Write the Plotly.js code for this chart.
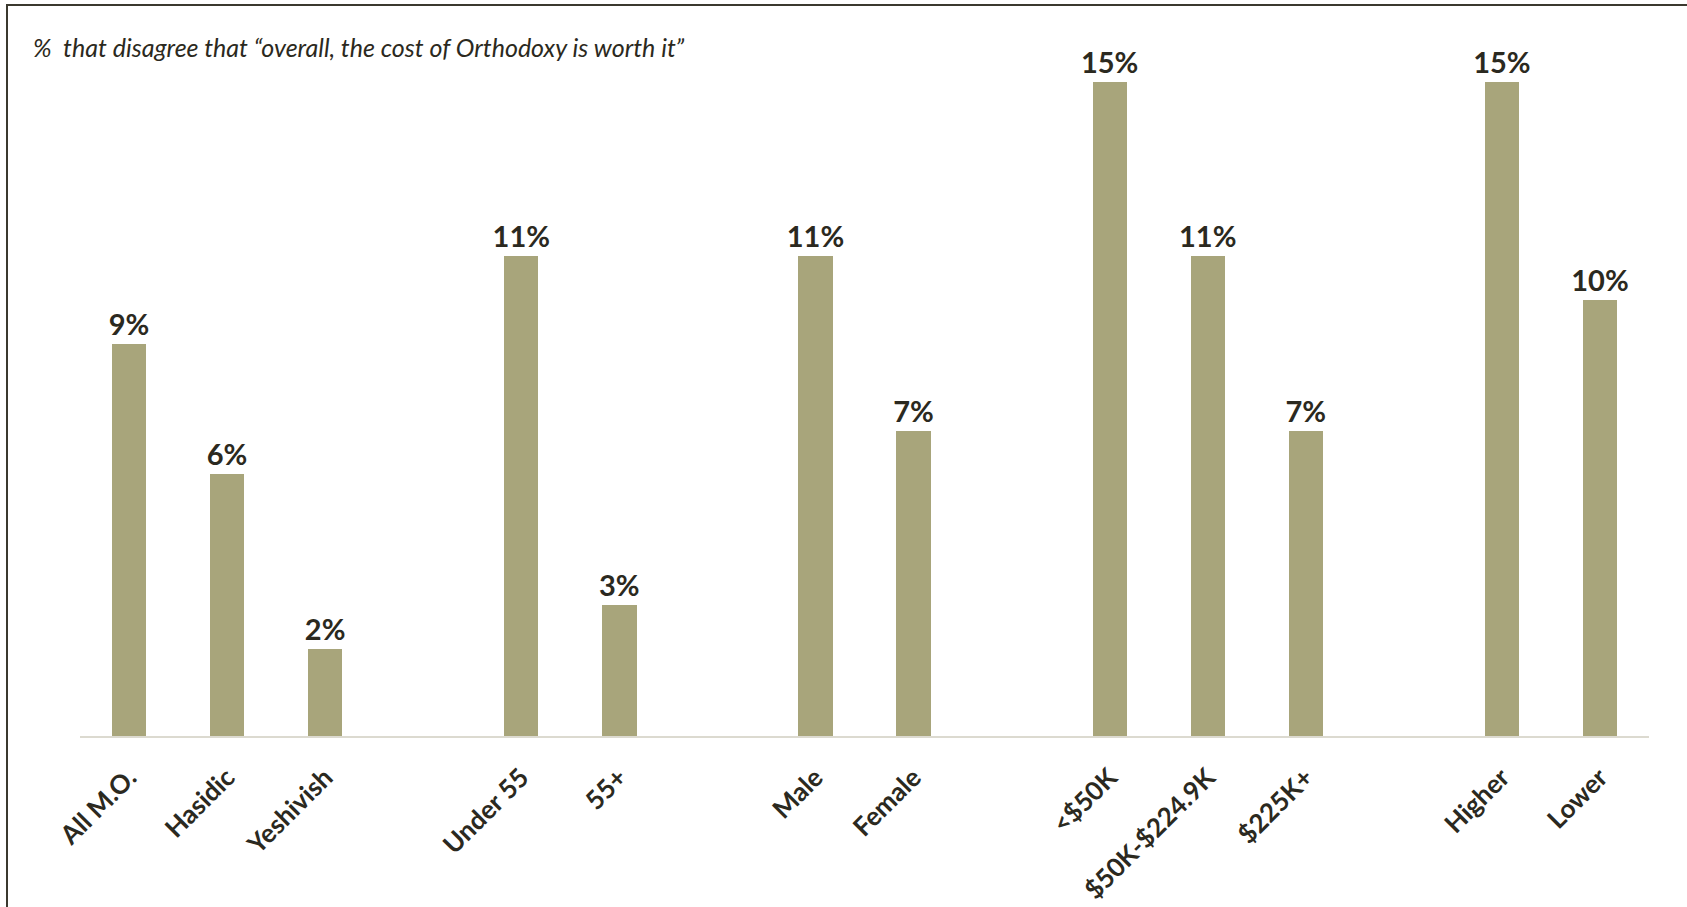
<!DOCTYPE html>
<html>
<head>
<meta charset="utf-8">
<script src="https://cdn.plot.ly/plotly-3.0.1.min.js"></script>
<style>html,body{margin:0;padding:0;background:#fff;}#chart{width:1687px;height:907px;}</style>
</head>
<body>
<div id="chart"></div>
<script>
const categories = ["All M.O.", "Hasidic", "Yeshivish", "Under 55", "55+", "Male", "Female", "<$50K", "$50K-$224.9K", "$225K+", "Higher", "Lower"];
const values = [9, 6, 2, 11, 3, 11, 7, 15, 11, 7, 15, 10];
const groupSizes = [3, 2, 2, 3, 2];
const titleText = "%  that disagree that \u201coverall, the cost of Orthodoxy is worth it\u201d";

// slot positions: one empty slot between groups
const xs = [];
let slot = 0;
groupSizes.forEach((n, g) => {
  for (let i = 0; i < n; i++) { xs.push(slot); slot++; }
  slot++;
});
const lastSlot = xs[xs.length - 1];

const L = 80, R = 38, T = 38, B = 171, W = 1687, H = 907;
const pw = W - L - R, ph = H - T - B;
function px2paperX(p) { return (p - L) / pw; }
function px2paperY(p) { return (H - B - p) / ph; }

const trace = {
  type: "bar",
  x: xs,
  y: values,
  width: 0.35,
  marker: { color: "#a8a57b" },
  texttemplate: "%{y}%",
  textposition: "outside",
  constraintext: "none",
  cliponaxis: false,
  textfont: { family: "Lato, 'Open Sans', sans-serif", size: 29, color: "#2b2920", weight: 700 },
  hoverinfo: "skip"
};

const layout = {
  width: W, height: H,
  margin: { l: L, r: R, t: T, b: B },
  paper_bgcolor: "#ffffff",
  plot_bgcolor: "#ffffff",
  showlegend: false,
  title: {
    text: titleText,
    font: { family: "Lato, 'Open Sans', sans-serif", size: 25, color: "#2b2920", style: "italic" },
    xref: "container", yref: "container",
    x: 33 / W, xanchor: "left",
    y: 1 - 48 / H, yanchor: "middle"
  },
  xaxis: {
    range: [-0.5, lastSlot + 0.5],
    tickmode: "array",
    tickvals: xs,
    ticktext: categories,
    tickangle: -45,
    ticks: "",
    ticklabelstandoff: 14,
    tickfont: { family: "Lato, 'Open Sans', sans-serif", size: 26, color: "#2b2920", weight: 700 },
    showgrid: false,
    zeroline: false,
    showline: true,
    linecolor: "#dcdad0",
    linewidth: 2,
    fixedrange: true
  },
  yaxis: {
    range: [0, ph / 43.6],
    visible: false,
    showgrid: false,
    zeroline: false,
    fixedrange: true
  },
  shapes: [
    {
      type: "rect", xref: "paper", yref: "paper",
      x0: px2paperX(7), x1: px2paperX(1720),
      y0: px2paperY(940), y1: px2paperY(5),
      line: { color: "#3b392f", width: 2 },
      fillcolor: "rgba(0,0,0,0)",
      layer: "below"
    }
  ],
  bargap: 0
};

Plotly.newPlot("chart", [trace], layout, { displayModeBar: false, staticPlot: true });
</script>
</body>
</html>
